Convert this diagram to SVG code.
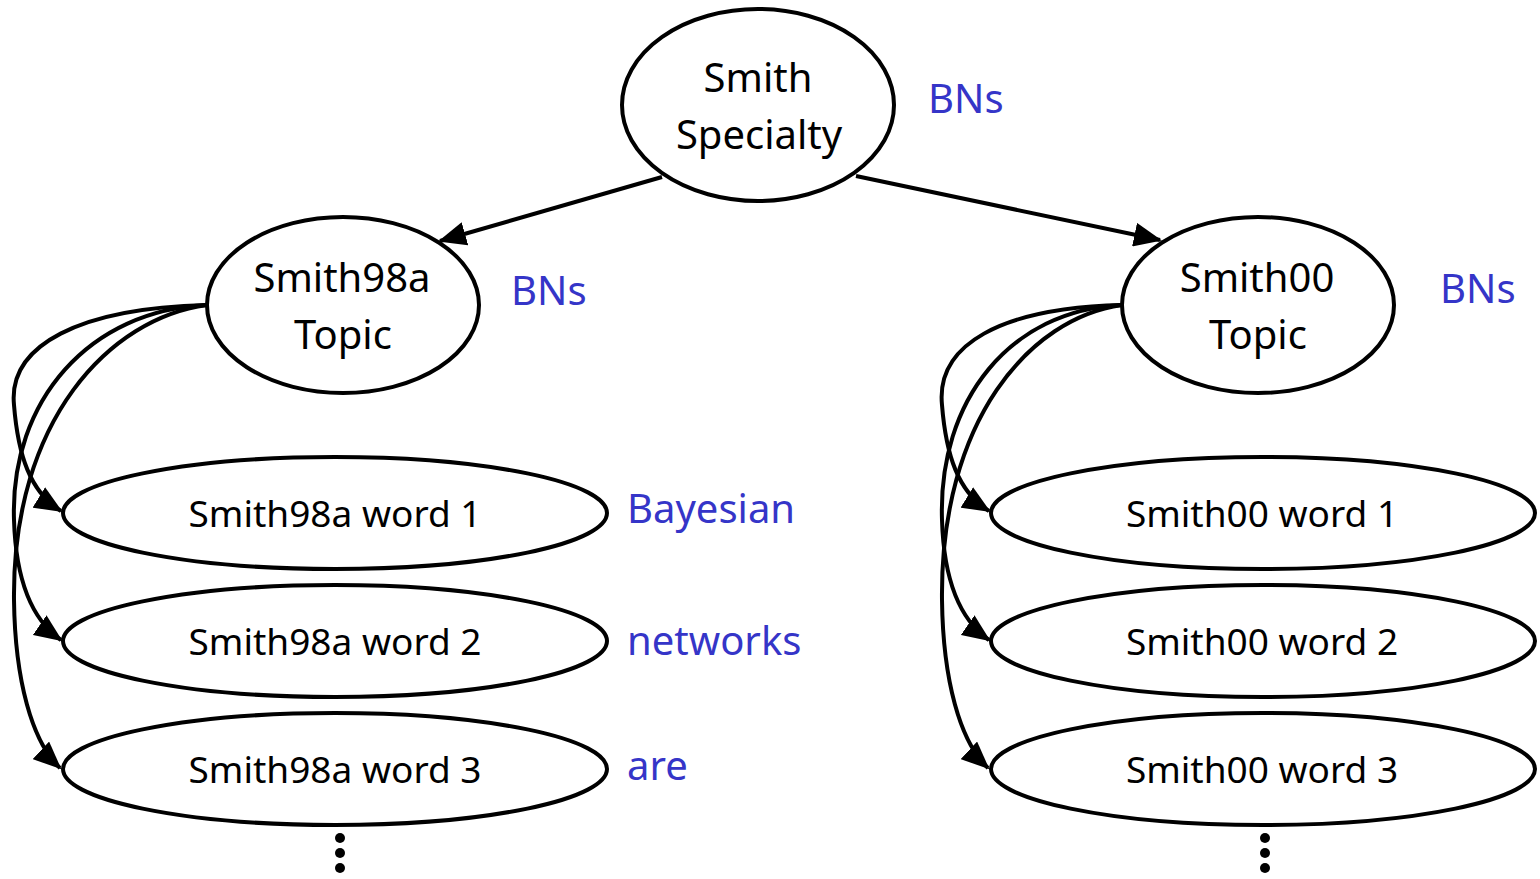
<svg xmlns="http://www.w3.org/2000/svg" width="1540" height="879" viewBox="0 0 1540 879">
<style>
.node{fill:#fff;stroke:#000;stroke-width:4}
.lbl{font-family:"Noto Sans","Open Sans",sans-serif;fill:#000;text-anchor:middle}
.big{font-size:40px}
.wd{font-size:37px}
.blue{font-family:"Noto Sans","Open Sans",sans-serif;fill:#3535C8;font-size:40px}
.edge{fill:none;stroke:#000;stroke-width:4;marker-end:url(#ah)}
</style>
<defs>
<marker id="ah" markerUnits="userSpaceOnUse" markerWidth="28" markerHeight="24" viewBox="0 0 28 24" refX="26" refY="12" orient="auto">
<path d="M0,0 L28,12 L0,24 z" fill="#000"/>
</marker>
</defs>
<rect width="1540" height="879" fill="#fff"/>
<g id="connectors">
<path class="edge" d="M662,177 L440,241"/>
<path class="edge" d="M856,176 L1160,240"/>
<path class="edge" d="M207,305 C80,308 8,345 14,405 C18,455 30,492 61,511"/>
<path class="edge" d="M207,305 C90,310 10,400 14,520 C16,585 35,622 61,640"/>
<path class="edge" d="M207,305 C110,318 12,420 14,600 C15,680 32,742 60,768"/>
<path class="edge" d="M1122,305 C1000,308 936,345 942,405 C946,455 958,492 989,511"/>
<path class="edge" d="M1122,305 C1010,310 938,400 942,520 C944,585 963,622 989,640"/>
<path class="edge" d="M1122,305 C1030,318 940,420 942,600 C943,680 960,742 988,768"/>
</g>
<g id="smith_specialty">
<ellipse class="node" cx="758" cy="105" rx="136" ry="96"/>
<text class="lbl big" x="758" y="92">Smith</text>
<text class="lbl big" x="759" y="149">Specialty</text>
</g>
<text class="blue" x="928" y="113">BNs</text>
<g id="smith98a_topic">
<ellipse class="node" cx="343" cy="305" rx="136" ry="88"/>
<text class="lbl big" x="342" y="292">Smith98a</text>
<text class="lbl big" x="343" y="349">Topic</text>
</g>
<text class="blue" x="511" y="305">BNs</text>
<g id="smith00_topic">
<ellipse class="node" cx="1258" cy="305" rx="136" ry="88"/>
<text class="lbl big" x="1257" y="292">Smith00</text>
<text class="lbl big" x="1258" y="349">Topic</text>
</g>
<text class="blue" x="1440" y="303">BNs</text>
<g id="smith98a_word1">
<ellipse class="node" cx="335" cy="513" rx="272" ry="56"/>
<text class="lbl wd" x="335" y="527">Smith98a word 1</text>
</g>
<g id="smith98a_word2">
<ellipse class="node" cx="335" cy="641" rx="272" ry="56"/>
<text class="lbl wd" x="335" y="655">Smith98a word 2</text>
</g>
<g id="smith98a_word3">
<ellipse class="node" cx="335" cy="769" rx="272" ry="56"/>
<text class="lbl wd" x="335" y="783">Smith98a word 3</text>
</g>
<g id="smith00_word1">
<ellipse class="node" cx="1263" cy="513" rx="272" ry="56"/>
<text class="lbl wd" x="1262" y="527">Smith00 word 1</text>
</g>
<g id="smith00_word2">
<ellipse class="node" cx="1263" cy="641" rx="272" ry="56"/>
<text class="lbl wd" x="1262" y="655">Smith00 word 2</text>
</g>
<g id="smith00_word3">
<ellipse class="node" cx="1263" cy="769" rx="272" ry="56"/>
<text class="lbl wd" x="1262" y="783">Smith00 word 3</text>
</g>
<text class="blue" x="627" y="523">Bayesian</text>
<text class="blue" x="627" y="655">networks</text>
<text class="blue" x="627" y="780">are</text>
<g id="ellipsis_left" fill="#000">
<circle cx="340" cy="838" r="5"/>
<circle cx="340" cy="853" r="5"/>
<circle cx="340" cy="868" r="5"/>
</g>
<g id="ellipsis_right" fill="#000">
<circle cx="1265" cy="838" r="5"/>
<circle cx="1265" cy="853" r="5"/>
<circle cx="1265" cy="868" r="5"/>
</g>
</svg>
